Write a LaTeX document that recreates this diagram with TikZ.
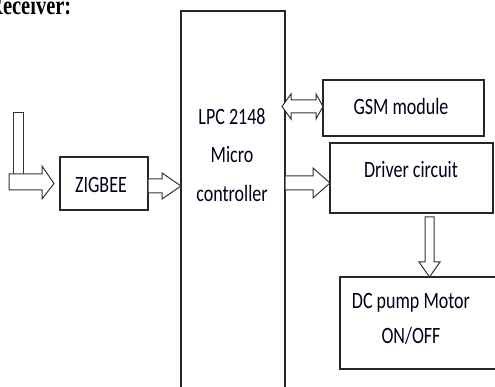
\documentclass[tikz,border=0pt]{standalone}
\usepackage{fontspec}
\usepackage{graphicx}
\newfontfamily\boxfont{Carlito}
\newfontfamily\headfont{Liberation Serif}
\newcommand\vst[1]{\scalebox{1}[1.3]{#1}}
\begin{document}
\begin{tikzpicture}[x=1pt,y=-1pt,
  blk/.style={draw=black!85,line width=1.6pt,rectangle,inner sep=0pt,outer sep=0pt},
  txt/.style={anchor=base,inner sep=0pt,font=\boxfont\fontsize{18}{20}\selectfont,text=black!90!blue},
  barrow/.style={draw=black!80,line width=1pt,fill=white,line join=miter}]
\useasboundingbox (0,0) rectangle (495,387);
\clip (0,0) rectangle (495,387);
\fill[white] (0,0) rectangle (495,387);
% heading
\node[anchor=base west,inner sep=0pt,font=\headfont\bfseries\fontsize{20.5}{22}\selectfont] (head) at (-12,15) {\vst{Receiver:}};
% boxes
\node[blk,minimum width=104pt,minimum height=388pt] (lpc) at (233,205) {};
\node[blk,minimum width=88pt,minimum height=53pt] (zig) at (104,183.5) {};
\node[blk,minimum width=161pt,minimum height=56pt] (gsm) at (403.5,108) {};
\node[blk,minimum width=163pt,minimum height=70pt] (drv) at (411.5,178) {};
\node[blk,minimum width=170pt,minimum height=92pt] (dc) at (425,323) {};
% texts
\node[txt] (t1) at (232,125) {\vst{LPC 2148}};
\node[txt] (t2) at (232,163) {\vst{Micro}};
\node[txt] (t3) at (232,202) {\vst{controller}};
\node[txt] (tz) at (101,193) {\vst{ZIGBEE}};
\node[txt] (tg) at (401,115) {\vst{GSM module}};
\node[txt] (td) at (411,178) {\vst{Driver circuit}};
\node[txt] (tm1) at (411,308) {\vst{DC pump Motor}};
\node[txt] (tm2) at (411,343) {\vst{ON/OFF}};
% input arrow
\coordinate (inbar) at (13,113);
\draw[barrow] (inbar) -- (23,113) -- (23,182) -- (13,182) -- cycle;
\draw[barrow] (9,174) -- (42,174) -- (42,166) -- (zig.west -| 54,182.5) -- (42,199) -- (42,190) -- (9,190) -- cycle;
% zigbee -> lpc
\draw[barrow] (zig.east |- 0,179) -- (162,179) -- (162,173) -- (lpc.west |- 0,186) -- (162,199) -- (162,193) -- (zig.east |- 0,193) -- cycle;
% lpc <-> gsm
\draw[barrow] (282,106.5) -- (291,94) -- (291,100) -- (316,100) -- (316,94) -- (gsm.west |- 0,106.5) -- (316,119) -- (316,113) -- (291,113) -- (291,119) -- cycle;
% lpc -> driver
\draw[barrow] (lpc.east |- 0,176) -- (313,176) -- (313,168) -- (drv.west |- 0,183) -- (313,198) -- (313,190) -- (lpc.east |- 0,190) -- cycle;
% driver -> dc
\draw[barrow] (425,217) -- (434,217) -- (434,262) -- (440,262) -- (dc.north -| 429.5,0) -- (419,262) -- (425,262) -- cycle;
\end{tikzpicture}
\end{document}
